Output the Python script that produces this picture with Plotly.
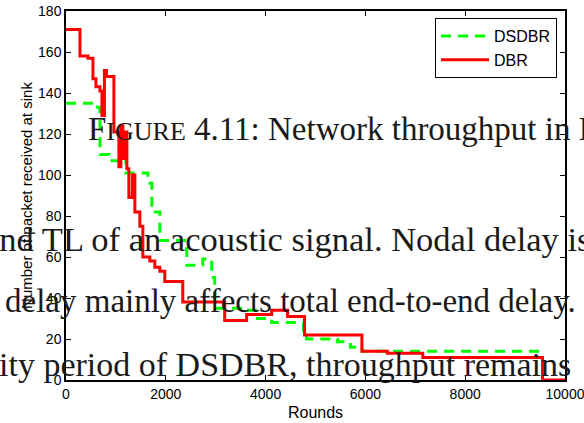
import plotly.graph_objects as go

# Packets received at the sink per round (step curves)
dbr_rounds = [0, 280, 440, 540, 600, 680, 720, 770, 810, 960, 1060, 1100, 1140, 1180,
              1220, 1260, 1330, 1380, 1480, 1540, 1680, 1780, 1880, 1980, 2340, 3180,
              3620, 4120, 4440, 4780, 5930, 6440, 7150, 9550, 10000]
dbr_packets = [171, 158, 157, 147, 143, 141, 129, 151, 148, 121, 104, 124, 108, 121,
               103, 89, 100, 82, 75, 60, 58, 55, 53, 48, 38, 29,
               32, 34, 31, 22, 14, 13, 11, 0, 0]

dsdbr_rounds = [0, 580, 680, 860, 1100, 1200, 1640, 1720, 1880, 2380, 2420, 2740, 2920,
                2980, 3600, 3840, 4120, 4760, 4820, 5440, 5700, 5940, 9500]
dsdbr_packets = [135, 133, 110, 107, 113, 101, 96, 82, 68, 64, 56, 59, 50,
                 35, 34, 30, 28, 22, 20, 18.6, 16, 14, 14]

x_ticks = [0, 2000, 4000, 6000, 8000, 10000]
x_tick_text = ["0", "2000", "4000", "6000", "8000", "10000"]
y_ticks = [0, 20, 40, 60, 80, 100, 120, 140, 160, 180]

W, H = 584, 423
ML, MR, MT, MB = 66, 19, 11, 43

fig = go.Figure()
fig.add_trace(go.Scatter(
    x=dsdbr_rounds, y=dsdbr_packets, name="DSDBR", mode="lines", line_shape="hv",
    line=dict(color="#00ff00", width=3, dash="10px,7px")))
fig.add_trace(go.Scatter(
    x=dbr_rounds, y=dbr_packets, name="DBR", mode="lines", line_shape="hv",
    line=dict(color="#ff0000", width=3)))

sans = "Liberation Sans, Arial, sans-serif"
axis_common = dict(showline=True, linecolor="black", linewidth=1.5, mirror="ticks",
                   ticks="inside", ticklen=5, tickwidth=1, tickcolor="black",
                   showgrid=False, zeroline=False, automargin=False,
                   ticklabeloverflow="allow",
                   tickfont=dict(family=sans, size=14, color="black"))
fig.update_xaxes(range=[0, 10000], tickvals=x_ticks, ticktext=x_tick_text,
                 title=dict(text="Rounds", standoff=6,
                            font=dict(family=sans, size=16, color="black")),
                 **axis_common)
fig.update_yaxes(range=[0, 180], tickvals=y_ticks,
                 title=dict(text="Number of packet received at sink", standoff=2,
                            font=dict(family=sans, size=15, color="black")),
                 **axis_common)


def px_to_paper(px, py):
    return (px - ML) / (W - ML - MR), (H - MB - py) / (H - MT - MB)


# Page text that runs across the plot: (text, left px, middle px, font size)
serif_family = "Liberation Serif, Times New Roman, serif"
page_lines = [
    ("F<span style='font-size:26px'>IGURE</span> 4.11: Network throughput in DSDBR",
     86, 129, 33),
    ("and TL of an acoustic signal. Nodal delay is", -18, 239, 34.5),
    ("delay mainly affects total end-to-end delay.", 3, 301, 33),
    ("ity period of DSDBR, throughput remains", -3, 364, 34),
]
for text, px, py, size in page_lines:
    ax, ay = px_to_paper(px, py)
    fig.add_annotation(text=text, x=ax, y=ay, xref="paper", yref="paper",
                       xanchor="left", yanchor="middle", showarrow=False,
                       font=dict(family=serif_family, size=size, color="#1a1a1a"))

lx, ly = px_to_paper(557, 18)
fig.update_layout(
    width=W, height=H,
    margin=dict(l=ML, r=MR, t=MT, b=MB),
    paper_bgcolor="white", plot_bgcolor="white",
    legend=dict(x=lx, y=ly, xanchor="right", yanchor="top",
                bgcolor="white", bordercolor="black", borderwidth=1,
                font=dict(family=sans, size=16, color="black"),
                itemwidth=48, tracegroupgap=0),
    showlegend=True,
)

fig.write_html("out.html")
